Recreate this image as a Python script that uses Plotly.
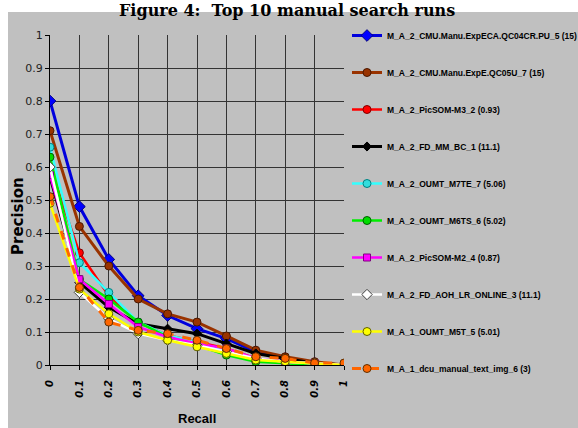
import plotly.graph_objects as go

recall = [0.0, 0.1, 0.2, 0.3, 0.4, 0.5, 0.6, 0.7, 0.8, 0.9, 1.0]
x_tick_labels = ["0", "0.1", "0.2", "0.3", "0.4", "0.5", "0.6", "0.7", "0.8", "0.9", "1"]
x_grid = [0.1, 0.2, 0.3, 0.4, 0.5, 0.6, 0.7, 0.8, 0.9]
y_ticks = [0, 0.1, 0.2, 0.3, 0.4, 0.5, 0.6, 0.7, 0.8, 0.9, 1]

names = [
    "M_A_2_CMU.Manu.ExpECA.QC04CR.PU_5 (15)",
    "M_A_2_CMU.Manu.ExpE.QC05U_7 (15)",
    "M_A_2_PicSOM-M3_2 (0.93)",
    "M_A_2_FD_MM_BC_1 (11.1)",
    "M_A_2_OUMT_M7TE_7 (5.06)",
    "M_A_2_OUMT_M6TS_6 (5.02)",
    "M_A_2_PicSOM-M2_4 (0.87)",
    "M_A_2_FD_AOH_LR_ONLINE_3 (11.1)",
    "M_A_1_OUMT_M5T_5 (5.01)",
    "M_A_1_dcu_manual_text_img_6 (3)",
]

cmu_expeca = [0.80, 0.48, 0.32, 0.21, 0.15, 0.11, 0.08, 0.04, 0.02, 0.005, 0.0]
cmu_expe = [0.71, 0.42, 0.30, 0.20, 0.155, 0.13, 0.088, 0.045, 0.025, 0.01, 0.0]
picsom_m3 = [0.60, 0.34, 0.21, 0.13, 0.09, 0.07, 0.05, 0.02, 0.01, 0.005, 0.0]
fd_mm_bc = [0.57, 0.25, 0.175, 0.125, 0.11, 0.095, 0.065, 0.035, 0.02, 0.005, 0.0]
oumt_m7te = [0.66, 0.31, 0.22, 0.13, 0.09, 0.07, 0.04, 0.02, 0.01, 0.005, 0.0]
oumt_m6ts = [0.63, 0.26, 0.20, 0.13, 0.085, 0.06, 0.03, 0.01, 0.005, 0.0, 0.0]
picsom_m2 = [0.575, 0.26, 0.185, 0.115, 0.085, 0.065, 0.05, 0.02, 0.01, 0.005, 0.0]
fd_aoh = [0.60, 0.22, 0.14, 0.095, 0.075, 0.06, 0.04, 0.02, 0.01, 0.005, 0.0]
oumt_m5t = [0.49, 0.23, 0.155, 0.10, 0.075, 0.055, 0.035, 0.015, 0.01, 0.005, 0.0]
dcu_manual = [0.51, 0.235, 0.13, 0.105, 0.095, 0.075, 0.05, 0.025, 0.02, 0.006, 0.006]

series = [cmu_expeca, cmu_expe, picsom_m3, fd_mm_bc, oumt_m7te,
          oumt_m6ts, picsom_m2, fd_aoh, oumt_m5t, dcu_manual]

styles = [
    dict(color="#0000DD", sym="diamond", mfill="#0000FF", mline="#000080", dash="solid", w=3, ms=9),
    dict(color="#993300", sym="circle", mfill="#993300", mline="#4a1800", dash="solid", w=3, ms=8),
    dict(color="#FF0000", sym="circle", mfill="#FF0000", mline="#800000", dash="solid", w=2.5, ms=8),
    dict(color="#000000", sym="diamond", mfill="#000000", mline="#000000", dash="solid", w=3, ms=7),
    dict(color="#33FFFF", sym="circle", mfill="#33DDDD", mline="#008080", dash="solid", w=2.5, ms=8),
    dict(color="#00EE00", sym="circle", mfill="#00DD00", mline="#006000", dash="solid", w=2.5, ms=8),
    dict(color="#FF00FF", sym="square", mfill="#FF00FF", mline="#800080", dash="solid", w=2.5, ms=7),
    dict(color="#FFFFFF", sym="diamond", mfill="#FFFFFF", mline="#404040", dash="solid", w=2.5, ms=8),
    dict(color="#FFFF00", sym="circle", mfill="#FFFF00", mline="#606000", dash="solid", w=2.5, ms=8),
    dict(color="#FF6600", sym="circle", mfill="#FF6600", mline="#603000", dash="dash", w=3, ms=8),
]

fig = go.Figure()
for i, (nm, ys, st) in enumerate(zip(names, series, styles)):
    fig.add_trace(go.Scatter(
        x=recall, y=ys, name=nm, mode="lines+markers",
        legendgroup="g%d" % i,
        line=dict(color=st["color"], width=st["w"], dash=st["dash"]),
        marker=dict(symbol=st["sym"], size=st["ms"], color=st["mfill"],
                    line=dict(color=st["mline"], width=1)),
    ))

W, H = 578, 428
L, R, T, B = 50, 344, 35, 365

fig.update_layout(
    width=W, height=H,
    margin=dict(l=L, r=W - R, t=T, b=H - B, autoexpand=False),
    paper_bgcolor="white",
    plot_bgcolor="rgba(0,0,0,0)",
    showlegend=True,
    legend=dict(
        x=(347 - L) / (R - L), xanchor="left",
        y=1 + (T - 21) / (B - T), yanchor="top",
        bgcolor="rgba(0,0,0,0)",
        font=dict(family="Liberation Sans, Arial", size=8.5, color="#000000", weight="bold"),
        tracegroupgap=18,
        itemwidth=30,
        maxheight=1000,
    ),
    shapes=[dict(type="rect", xref="paper", yref="paper", layer="below",
                 x0=(8 - L) / (R - L), x1=(W - L) / (R - L),
                 y0=(B - H) / (B - T), y1=(B - 12) / (B - T),
                 fillcolor="#C0C0C0", line=dict(width=0))],
    annotations=[
        dict(text="Figure 4:  Top 10 manual search runs", xref="paper", yref="paper",
             x=(287 - L) / (R - L), y=(B - 10.5) / (B - T), xanchor="center", yanchor="middle",
             showarrow=False, font=dict(family="DejaVu Serif", size=16, color="#000000", weight="bold")),
        dict(text="Precision", xref="paper", yref="paper",
             x=(18 - L) / (R - L), y=(B - 216) / (B - T), xanchor="center", yanchor="middle",
             textangle=-90, showarrow=False,
             font=dict(family="DejaVu Sans", size=15, color="#000000", weight="bold")),
        dict(text="Recall", xref="paper", yref="paper",
             x=(197 - L) / (R - L), y=(B - 418) / (B - T), xanchor="center", yanchor="middle",
             showarrow=False,
             font=dict(family="Liberation Sans", size=13, color="#000000", weight="bold")),
    ],
)

fig.update_xaxes(
    range=[0, 1], tickmode="array", tickvals=recall, ticktext=x_tick_labels,
    tickangle=-90, ticks="outside", ticklen=4, tickcolor="#000000",
    showline=True, linecolor="#000000", linewidth=1,
    showgrid=False, zeroline=False,
    minor=dict(tickmode="array", tickvals=x_grid, showgrid=True,
               gridcolor="#333333", gridwidth=1, ticks=""),
    ticklabelstandoff=6,
    tickfont=dict(family="DejaVu Sans", size=10, color="#000000", weight="bold", style="italic"),
)
fig.update_yaxes(
    range=[0, 1], tickmode="array", tickvals=y_ticks,
    ticks="outside", ticklen=4, tickcolor="#000000",
    showline=True, linecolor="#000000", linewidth=1,
    showgrid=True, gridcolor="#333333", gridwidth=1, zeroline=False,
    tickfont=dict(family="DejaVu Sans", size=11, color="#222222"),
)

fig.write_html("out.html")
